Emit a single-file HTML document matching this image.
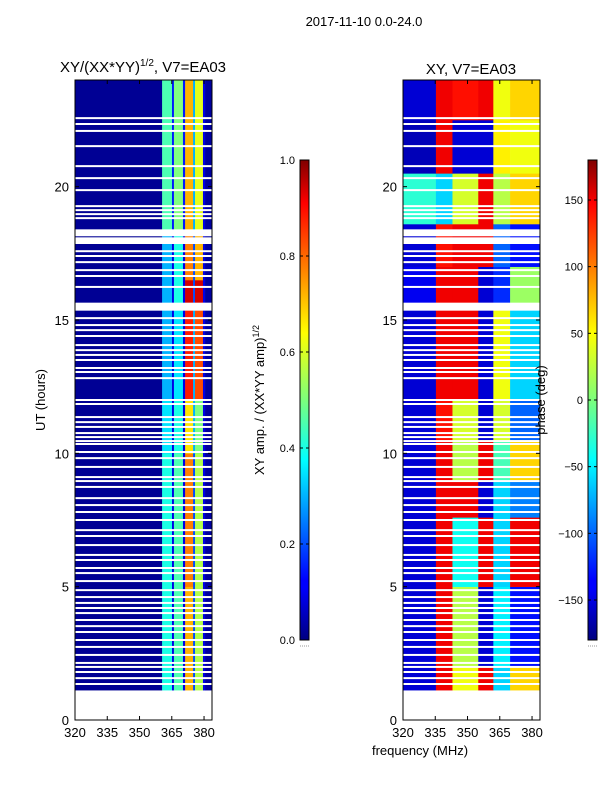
<!DOCTYPE html>
<html><head><meta charset="utf-8"><style>
body{margin:0;background:#fff;}
svg text{font-family:"Liberation Sans",sans-serif;}
</style></head><body>
<svg id="fig" width="600" height="800" viewBox="0 0 600 800" xmlns="http://www.w3.org/2000/svg">
<rect width="600" height="800" fill="#fff"/>
<text x="364" y="26" font-size="13" text-anchor="middle">2017-11-10 0.0-24.0</text>
<text x="143" y="72" font-size="15" text-anchor="middle">XY/(XX*YY)<tspan font-size="10" dy="-6">1/2</tspan><tspan dy="6">, V7=EA03</tspan></text>
<text x="471" y="74" font-size="15" text-anchor="middle">XY, V7=EA03</text>
<g id="left"></g>
<g id="right"></g>
<text transform="translate(45,400) rotate(-90)" font-size="13" text-anchor="middle">UT (hours)</text>
<text x="420" y="755" font-size="13" text-anchor="middle">frequency (MHz)</text>
<text transform="translate(264,400) rotate(-90)" font-size="13" text-anchor="middle">XY amp. / (XX*YY amp)<tspan font-size="9" dy="-5">1/2</tspan></text>
<text transform="translate(545,400) rotate(-90)" font-size="13" text-anchor="middle">phase (deg)</text>
<defs>
<linearGradient id="jet" x1="0" y1="1" x2="0" y2="0">
<stop offset="0" stop-color="rgb(0,0,128)"/><stop offset="0.11" stop-color="rgb(0,0,255)"/>
<stop offset="0.125" stop-color="rgb(0,0,255)"/><stop offset="0.34" stop-color="rgb(0,220,255)"/>
<stop offset="0.375" stop-color="rgb(0,255,255)"/><stop offset="0.5" stop-color="rgb(124,255,124)"/>
<stop offset="0.64" stop-color="rgb(255,255,0)"/><stop offset="0.91" stop-color="rgb(255,0,0)"/>
<stop offset="1" stop-color="rgb(128,0,0)"/>
</linearGradient>
</defs>
<g id="cb1"></g>
<g id="cb2"></g>
</svg>
<script>
// ---- data ----
const leftFreqEdges = [320, 360.5, 365.1, 366.0, 370.2, 371.2, 374.9, 375.8, 379.5, 380.5, 383.7];
const rightFreqEdges = [320, 335.3, 343, 355, 362, 369.8, 383.7];
const timeBlocksLeft = [[1.12,5],[5,10],[10,12],[12,15.4],[15.4,16.5],[16.5,18.4],[18.4,24]];
const ampValues = [
 [0.02,0.4,0.1,0.45,0.1,0.7,0.2,0.55,0.1,0.03],
 [0.02,0.4,0.1,0.45,0.1,0.75,0.2,0.55,0.1,0.03],
 [0.02,0.35,0.1,0.4,0.1,0.65,0.3,0.5,0.1,0.03],
 [0.02,0.3,0.1,0.35,0.1,0.85,0.3,0.8,0.1,0.03],
 [0.02,0.3,0.1,0.4,0.1,0.92,0.2,0.92,0.1,0.03],
 [0.02,0.3,0.1,0.4,0.1,0.75,0.2,0.7,0.1,0.03],
 [0.02,0.45,0.15,0.5,0.15,0.7,0.3,0.6,0.1,0.03]];
const timeBlocksRight = [[1.12,2],[2,5],[5,7.6],[7.6,9],[9,10.5],[10.5,12],[12,15.4],[15.4,17],[17,18.6],[18.6,20.5],[20.5,22.5],[22.5,24]];
const phaseValues = [
 [-150,140,40,140,-60,60],
 [-150,140,20,-150,-50,-130],
 [-150,140,-40,140,-60,140],
 [-150,140,140,-150,-60,-90],
 [-150,140,20,140,-20,60],
 [-150,130,30,-150,30,-100],
 [-150,140,140,-150,40,-60],
 [-140,140,140,-150,-120,10],
 [-150,130,140,140,-100,-130],
 [-30,-60,30,140,20,60],
 [-160,140,-150,-150,50,40],
 [-150,140,130,140,40,60]];
const gapTimes = [22.57,22.35,22.09,21.52,20.77,20.32,19.87,19.27,19.12,18.97,18.82,17.58,17.4,17.17,16.87,16.65,16.24,15.07,14.81,14.62,14.4,14.06,13.87,13.69,13.5,13.2,13.05,12.82,12.0,11.85,11.36,11.17,10.99,10.76,10.61,10.46,10.35,10.05,9.82,9.49,9.11,8.96,8.74,8.32,8.06,7.8,7.5,7.12,6.9,6.56,6.19,6.0,5.7,5.51,5.21,4.87,4.61,4.39,4.2,4.01,3.75,3.52,3.3,3.0,2.74,2.44,2.14,1.99,1.8,1.57,1.35];
const bigGaps = [[17.85,18.1],[18.14,18.4],[15.35,15.65]];
const xTicks = [320,335,350,365,380];
const yTicks = [0,5,10,15,20];
const cb1Ticks = [0.0,0.2,0.4,0.6,0.8,1.0];
const cb1Labels = ["0.0","0.2","0.4","0.6","0.8","1.0"];
const cb2Ticks = [-150,-100,-50,0,50,100,150];
const cb2Labels = ["\u2212150","\u2212100","\u221250","0","50","100","150"];

// ---- helpers ----
const NS="http://www.w3.org/2000/svg";
function mk(tag,attrs,parent){const e=document.createElementNS(NS,tag);for(const k in attrs)e.setAttribute(k,attrs[k]);parent.appendChild(e);return e;}
function jet(v){v=Math.max(0,Math.min(1,v));
 const cl=x=>Math.max(0,Math.min(1,x));
 const r=cl(Math.min(4*v-1.5,-4*v+4.5)),g=cl(Math.min(4*v-0.5,-4*v+3.5)),b=cl(Math.min(4*v+0.5,-4*v+2.5));
 return `rgb(${Math.round(r*255)},${Math.round(g*255)},${Math.round(b*255)})`;}
const Y0=720,Y1=80;
const yScale=t=>Y0-(t/24)*(Y0-Y1);
function xScaleFor(x0){return f=>x0+(f-320)*(137/63.7);}

function panel(g,x0,edges,blocks,vals,norm){
 const xs=xScaleFor(x0);
 blocks.forEach((b,i)=>{edges.slice(0,-1).forEach((f,j)=>{
  const r=mk('rect',{x:xs(f),y:yScale(b[1]),width:xs(edges[j+1])-xs(f)+0.3,height:yScale(b[0])-yScale(b[1])+0.3,fill:jet(norm(vals[i][j]))},g);
  
  
 });});
 gapTimes.forEach(t=>{const r=mk('rect',{x:x0,y:yScale(t)-1,width:137,height:2,fill:'#fff'},g);
  
  });
 bigGaps.forEach(b=>{const r=mk('rect',{x:x0,y:yScale(b[1]),width:137,height:yScale(b[0])-yScale(b[1]),fill:'#fff'},g);
  
  });
 mk('rect',{x:x0,y:Y1,width:137,height:Y0-Y1,fill:'none',stroke:'#000','stroke-width':1},g);
 xTicks.forEach(v=>{const x=xs(v);
  mk('line',{x1:x,x2:x,y1:Y0,y2:Y0-4,stroke:'#000'},g);mk('line',{x1:x,x2:x,y1:Y1,y2:Y1+4,stroke:'#000'},g);
  const t=mk('text',{x:x,y:Y0+17,'font-size':13,'text-anchor':'middle'},g);t.textContent=v;
  
  });
 yTicks.forEach(v=>{const y=yScale(v);
  mk('line',{x1:x0,x2:x0+4,y1:y,y2:y,stroke:'#000'},g);mk('line',{x1:x0+137,x2:x0+133,y1:y,y2:y,stroke:'#000'},g);
  const t=mk('text',{x:x0-6,y:y+5,'font-size':13,'text-anchor':'end'},g);t.textContent=v;
  
  });
}
panel(document.getElementById('left'),75,leftFreqEdges,timeBlocksLeft,ampValues,v=>v);
panel(document.getElementById('right'),403,rightFreqEdges,timeBlocksRight,phaseValues,v=>(v+180)/360);

function colorbar(g,x0,ticks,labels,norm){
 mk('rect',{x:x0,y:160,width:9,height:480,fill:'url(#jet)',stroke:'#000','stroke-width':1},g);
 ticks.forEach((v,i)=>{const y=640-norm(v)*480;
  mk('line',{x1:x0,x2:x0+3,y1:y,y2:y,stroke:'#000'},g);mk('line',{x1:x0+9,x2:x0+6,y1:y,y2:y,stroke:'#000'},g);
  const t=mk('text',{x:x0-5,y:y+4,'font-size':11,'text-anchor':'end'},g);t.textContent=labels[i];
  
  });
 mk('line',{x1:x0,x2:x0+9,y1:646,y2:646,stroke:'#999','stroke-dasharray':'1,1'},g);
}
colorbar(document.getElementById('cb1'),300,cb1Ticks,cb1Labels,v=>v);
colorbar(document.getElementById('cb2'),588,cb2Ticks,cb2Labels,v=>(v+180)/360);
</script>
</body></html>
